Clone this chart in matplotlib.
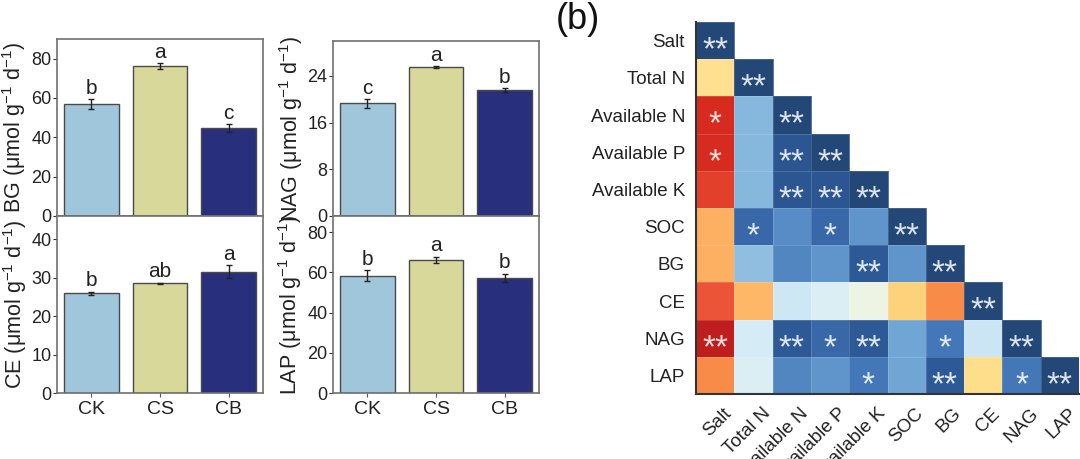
import numpy as np
import matplotlib
matplotlib.use("Agg")
import matplotlib.pyplot as plt
import matplotlib.transforms as mtransforms
from matplotlib.colors import LinearSegmentedColormap

plt.rcParams['font.family'] = ['Liberation Sans', 'DejaVu Sans']
plt.rcParams['mathtext.default'] = 'regular'

# ---- bar data (a) ----
groups = ["CK", "CS", "CB"]
bar_colors = ["#a0c6dc", "#d8d89a", "#28307d"]

bg_mean = [57.0, 76.3, 44.8]
bg_err = [2.5, 1.5, 2.0]
bg_letters = ["b", "a", "c"]

nag_mean = [19.3, 25.5, 21.6]
nag_err = [0.7, 0.2, 0.35]
nag_letters = ["c", "a", "b"]

ce_mean = [25.9, 28.5, 31.5]
ce_err = [0.4, 0.2, 1.7]
ce_letters = ["b", "ab", "a"]

lap_mean = [58.3, 66.2, 57.3]
lap_err = [2.8, 1.5, 2.0]
lap_letters = ["b", "a", "b"]

# ---- correlation data (b) ----
variables = ["Salt", "Total N", "Available N", "Available P", "Available K",
             "SOC", "BG", "CE", "NAG", "LAP"]
corr_rows = [
    [1.0],
    [-0.2, 1.0],
    [-0.8, 0.45, 1.0],
    [-0.8, 0.45, 0.9, 1.0],
    [-0.75, 0.45, 0.9, 0.9, 1.0],
    [-0.45, 0.8, 0.62, 0.8, 0.58, 1.0],
    [-0.45, 0.42, 0.65, 0.58, 0.88, 0.58, 1.0],
    [-0.7, -0.42, 0.18, 0.12, 0.0, -0.3, -0.55, 1.0],
    [-0.9, 0.15, 0.88, 0.8, 0.88, 0.52, 0.72, 0.2, 1.0],
    [-0.55, 0.12, 0.65, 0.58, 0.72, 0.52, 0.88, -0.22, 0.72, 1.0],
]
sig_rows = [
    ["**"],
    ["", "**"],
    ["*", "", "**"],
    ["*", "", "**", "**"],
    ["", "", "**", "**", "**"],
    ["", "*", "", "*", "", "**"],
    ["", "", "", "", "**", "", "**"],
    ["", "", "", "", "", "", "", "**"],
    ["**", "", "**", "*", "**", "", "*", "", "**"],
    ["", "", "", "", "*", "", "**", "", "*", "**"],
]

cmap = LinearSegmentedColormap.from_list("corr", [
    (0.0, "#a50f15"), (0.05, "#c0201f"), (0.1, "#d92b20"), (0.15, "#ec5538"),
    (0.225, "#f98c48"), (0.275, "#fdb062"), (0.35, "#fed27a"), (0.4, "#fee090"),
    (0.5, "#eef4e2"), (0.575, "#d6ecf7"), (0.65, "#b5d8ef"), (0.725, "#86b8de"),
    (0.8, "#5b91c9"), (0.875, "#3f72b3"), (0.94, "#2d5a98"), (1.0, "#234776")])

fig = plt.figure(figsize=(10.8, 4.59), dpi=100)


def bar_panel(rect, means, errs, letters, name, ylim, yticks, show_x):
    ax = fig.add_axes(rect)
    x = np.arange(len(groups))
    ax.bar(x, means, width=0.8, color=bar_colors, edgecolor="#4a4a4a",
           linewidth=1.0, zorder=2)
    ax.errorbar(x, means, yerr=errs, fmt="none", ecolor="#222222",
                elinewidth=1.0, capsize=2, capthick=1.0, zorder=3)
    for xi, m, e, t in zip(x, means, errs, letters):
        ax.annotate(t, (xi, m + e), xytext=(0, 1), textcoords="offset points",
                    ha="center", va="bottom", fontsize=15, color="#222222")
    ax.set_xlim(-0.5, 2.5)
    ax.set_ylim(*ylim)
    ax.set_yticks(yticks)
    ax.set_xticks(x)
    if show_x:
        ax.set_xticklabels(groups, fontsize=14, color="#222222")
    else:
        ax.set_xticklabels([])
    ax.tick_params(axis="y", labelsize=13, colors="#333333", length=3, pad=1,
                   labelcolor="#222222")
    ax.tick_params(axis="x", length=3, colors="#555555", pad=3,
                   labelcolor="#222222")
    for s in ax.spines.values():
        s.set_color("#707070")
        s.set_linewidth(1.2)
    ax.set_ylabel(name + " (μmol g$^{-1}$ d$^{-1}$)",
                  fontsize=15.5, color="#222222", labelpad=2)
    return ax


h = 177 / 459
bar_panel([57 / 1080, 1 - 216 / 459, 206 / 1080, h], bg_mean, bg_err, bg_letters,
          "BG", (0, 90), [0, 20, 40, 60, 80], False)
bar_panel([57 / 1080, 1 - 393 / 459, 206 / 1080, h], ce_mean, ce_err, ce_letters,
          "CE", (0, 46), [0, 10, 20, 30, 40], True)
bar_panel([333 / 1080, 1 - 216 / 459, 206 / 1080, 175 / 459], nag_mean, nag_err,
          nag_letters, "NAG", (0, 30), [0, 8, 16, 24], False)
bar_panel([333 / 1080, 1 - 393 / 459, 206 / 1080, h], lap_mean, lap_err,
          lap_letters, "LAP", (0, 88), [0, 20, 40, 60, 80], True)

# ---- heatmap ----
n = len(variables)
mat = np.full((n, n), np.nan)
for i, row in enumerate(corr_rows):
    mat[i, :len(row)] = row
mat = np.ma.masked_invalid(mat)

ax = fig.add_axes([696 / 1080, 1 - 394 / 459, 383 / 1080, 372 / 459])
ax.pcolormesh(np.arange(n + 1), np.arange(n + 1), mat, cmap=cmap, vmin=-1, vmax=1,
              edgecolors=(1, 1, 1, 0.15), linewidth=0.5)
ax.set_xlim(0, n)
ax.set_ylim(n, 0)
for i, row in enumerate(sig_rows):
    for j, s in enumerate(row):
        if s:
            ax.annotate(s, (j + 0.5, i + 0.5), xytext=(0, -13.5),
                        textcoords="offset points", ha="center", va="baseline",
                        fontsize=24, color="white", alpha=0.85)
ax.set_xticks(np.arange(n) + 0.5)
ax.set_yticks(np.arange(n) + 0.5)
ax.set_xticklabels(variables, rotation=45, ha="right", va="top",
                   rotation_mode="anchor", fontsize=13.5, color="#222222")
ax.set_yticklabels(variables, fontsize=13.5, color="#222222")
ax.tick_params(length=0, pad=8)
shift = mtransforms.ScaledTranslation(8 / 100, 0, fig.dpi_scale_trans)
for lab in ax.get_xticklabels():
    lab.set_transform(lab.get_transform() + shift)
for side in ["top", "right"]:
    ax.spines[side].set_visible(False)
for side in ["left", "bottom"]:
    ax.spines[side].set_color("#333333")
    ax.spines[side].set_linewidth(1.5)

fig.text(556 / 1080, 1 - 2 / 459, "(b)", fontsize=26, ha="left", va="top",
         color="#111111")

fig.savefig("out.png", dpi=100)
